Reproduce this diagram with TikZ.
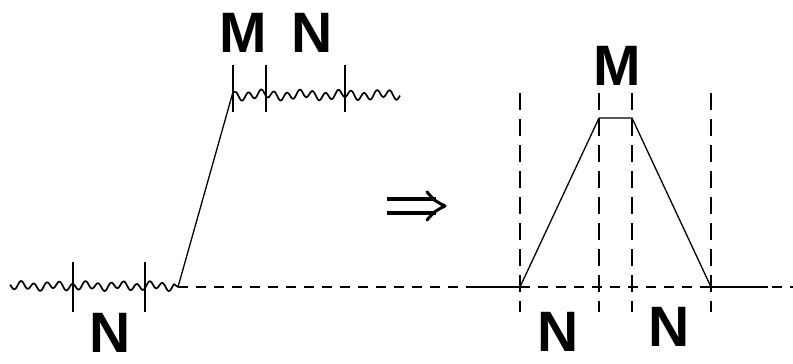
\documentclass[tikz,border=0pt]{standalone}
\usepackage{fontspec}
\setmainfont{Liberation Sans}
\begin{document}
\begin{tikzpicture}[x=1pt,y=-1pt,
  lbl/.style={font=\fontsize{57}{60}\selectfont\bfseries, inner sep=0pt},
  trace/.style={line width=1.3pt, line join=round},
  wave/.style={line width=1.7pt, line join=round},
  tickmark/.style={line width=1.2pt},
  guide/.style={line width=1.3pt, dash pattern=on 17pt off 9pt},
  basedash/.style={line width=1.3pt, dash pattern=on 10pt off 8pt},
  arrowbar/.style={line width=3.6pt}]
\useasboundingbox (0,0) rectangle (793,364);
% key points
\coordinate (A) at (178,287);
\coordinate (B) at (233,92);
\coordinate (P1) at (520,287);
\coordinate (P2) at (599,118);
\coordinate (P3) at (632,118);
\coordinate (P4) at (711,287);
\coordinate (Lend) at (472,287);
\coordinate (Rend) at (768,287);
\coordinate (Bend) at (793,287);
% left signal
\draw[wave] plot[domain=10:174, samples=300, smooth] (\x, {286 + 3.5*sin(28*\x+40) + 1.5*sin(11*\x+30)}) -- (A);
\draw[trace] (A) -- (B);
\draw[wave] (B) -- plot[domain=3:167, samples=300, smooth] ({233+\x}, {95 + 3.8*sin(28*\x+200) + 1.8*sin(9*\x)});
% baseline
\draw[basedash] (A) -- (Bend);
\draw[trace] (Lend) -- (P1);
\draw[trace] (P4) -- (Rend);
% ticks left
\draw[tickmark] (73,262) -- (73,312);
\draw[tickmark] (145,262) -- (145,312);
\draw[tickmark] (233,65) -- (233,112);
\draw[tickmark] (266,65) -- (266,112);
\draw[tickmark] (345,65) -- (345,112);
% labels left
\node[lbl] (n1) at (110,333) {N};
\node[lbl] (m1) at (243,33) {M};
\node[lbl] (n2) at (312,33) {N};
% implication arrow
\draw[arrowbar] (387,199) -- (436,199);
\draw[arrowbar] (387,213) -- (436,213);
\draw[line width=3pt, line cap=round, line join=round] (427,192) .. controls (435,201) .. (445,206) .. controls (435,211) .. (427,220);
% right diagram guides
\draw[guide] (520,93) -- (520,312);
\draw[guide] (599,93) -- (599,312);
\draw[guide] (632,93) -- (632,312);
\draw[guide] (711,93) -- (711,312);
% trapezoid
\draw[trace] (P1) -- (P2) -- (P3) -- (P4);
% labels right
\node[lbl] (m2) at (617,66) {M};
\node[lbl] (n3) at (558,332) {N};
\node[lbl] (n4) at (669,327) {N};
\end{tikzpicture}
\end{document}
